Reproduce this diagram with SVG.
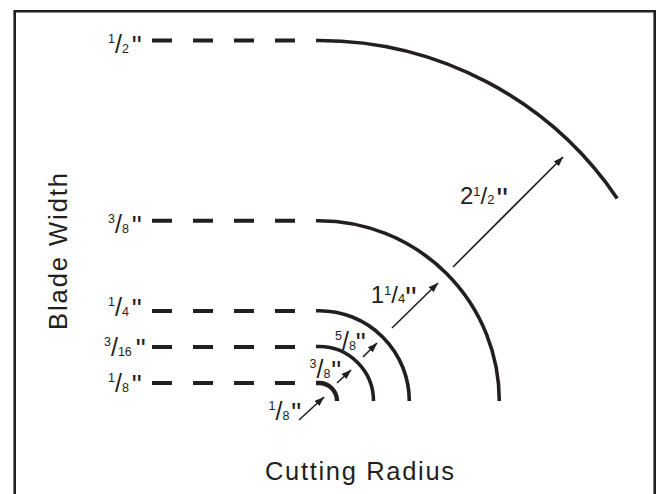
<svg xmlns="http://www.w3.org/2000/svg" width="657" height="494" viewBox="0 0 657 494">
<style>
text{font-family:"Liberation Sans",Arial,Helvetica,sans-serif;fill:#231f20}
.n{font-size:12.5px}
.s{font-size:25px}
.q{font-size:28px}
.bn{font-size:24px}
.sn{font-size:13px}
.bs{font-size:24px}
.bq{font-size:32px}
.title{font-size:25.5px}
.dash{stroke:#231f20;stroke-width:4;stroke-dasharray:20 21;fill:none}
.arc{stroke:#231f20;stroke-width:3.6;fill:none}
.arr{stroke:#231f20;stroke-width:1.6;fill:none;marker-end:url(#ah)}
</style>
<defs>
<marker id="ah" markerUnits="userSpaceOnUse" markerWidth="10" markerHeight="8" refX="9.5" refY="3.5" orient="auto">
<path d="M0,0 L10,3.5 L0,7 z" fill="#231f20"/>
</marker>
</defs>
<rect width="657" height="494" fill="#ffffff"/>
<path id="frame" d="M14.7,494 V11.3 H654.7 V494" fill="none" stroke="#231f20" stroke-width="2.6"/>

<g id="w-1-2">
<line class="dash" x1="152" y1="40.5" x2="296" y2="40.5"/>
<path class="arc" d="M316,40.5 H319 A360.5,360.5 0 0 1 617.2,198.4"/>
<text x="108" y="52.8"><tspan class="n" dy="-10">1</tspan><tspan class="s" dy="10">/</tspan><tspan class="n">2</tspan><tspan class="q" dx="3" dy="1.8">"</tspan></text>
</g>

<g id="w-3-8">
<line class="dash" x1="152" y1="220.7" x2="296" y2="220.7"/>
<path class="arc" d="M316,220.7 H319 A180.3,180.3 0 0 1 499.3,401"/>
<text x="108" y="233"><tspan class="n" dy="-10">3</tspan><tspan class="s" dy="10">/</tspan><tspan class="n">8</tspan><tspan class="q" dx="3" dy="1.8">"</tspan></text>
</g>

<g id="w-1-4">
<line class="dash" x1="152" y1="311" x2="296" y2="311"/>
<path class="arc" d="M316,310.7 H319 A90.3,90.3 0 0 1 409.3,401"/>
<text x="108" y="316"><tspan class="n" dy="-10">1</tspan><tspan class="s" dy="10">/</tspan><tspan class="n">4</tspan><tspan class="q" dx="3" dy="1.8">"</tspan></text>
</g>

<g id="w-3-16">
<line class="dash" x1="152" y1="347" x2="296" y2="347"/>
<path class="arc" d="M316,346.5 H319 A54.5,54.5 0 0 1 373.5,401"/>
<text x="104" y="356"><tspan class="n" dy="-10">3</tspan><tspan class="s" dy="10">/</tspan><tspan class="n">16</tspan><tspan class="q" dx="4" dy="1.8">"</tspan></text>
</g>

<g id="w-1-8">
<line class="dash" x1="152" y1="383" x2="296" y2="383"/>
<path class="arc" d="M316,383 H319 A18,18 0 0 1 337,401" style="stroke-width:4.4"/>
<text x="108" y="392"><tspan class="n" dy="-10">1</tspan><tspan class="s" dy="10">/</tspan><tspan class="n">8</tspan><tspan class="q" dx="3" dy="1.8">"</tspan></text>
</g>

<g id="radius-labels">
<text x="268.5" y="420"><tspan class="n" dy="-10">1</tspan><tspan class="s" dy="10">/</tspan><tspan class="n">8</tspan><tspan class="q" dx="2" dy="1.8">"</tspan></text>
<text x="309.5" y="378"><tspan class="n" dy="-10">3</tspan><tspan class="s" dy="10">/</tspan><tspan class="n">8</tspan><tspan class="q" dx="1" dy="1.8">"</tspan></text>
<text x="335" y="350"><tspan class="n" dy="-10">5</tspan><tspan class="s" dy="10">/</tspan><tspan class="n">8</tspan><tspan class="q" dy="1.8">"</tspan></text>
<text x="370.7" y="303.3"><tspan class="bn">1</tspan><tspan class="sn" dy="-8">1</tspan><tspan class="bs" dy="8">/</tspan><tspan class="sn">4</tspan><tspan class="bq" dy="5.6">"</tspan></text>
<text x="460" y="204"><tspan class="bn">2</tspan><tspan class="sn" dy="-8">1</tspan><tspan class="bs" dy="8">/</tspan><tspan class="sn">2</tspan><tspan class="bq" dx="2" dy="5.6">"</tspan></text>
</g>

<g id="connectors">
<line class="arr" x1="299" y1="420" x2="324" y2="397"/>
<line class="arr" x1="337" y1="383" x2="351" y2="370"/>
<line class="arr" x1="363" y1="357" x2="377" y2="343"/>
<line class="arr" x1="392" y1="328" x2="438" y2="283"/>
<line class="arr" x1="453" y1="267" x2="563" y2="157"/>
</g>

<g id="axis-labels">
<text class="title" transform="translate(66.5,251.5) rotate(-90)" text-anchor="middle" textLength="157" lengthAdjust="spacing">Blade Width</text>
<text class="title" x="265" y="480" textLength="189" lengthAdjust="spacing">Cutting Radius</text>
</g>
</svg>
